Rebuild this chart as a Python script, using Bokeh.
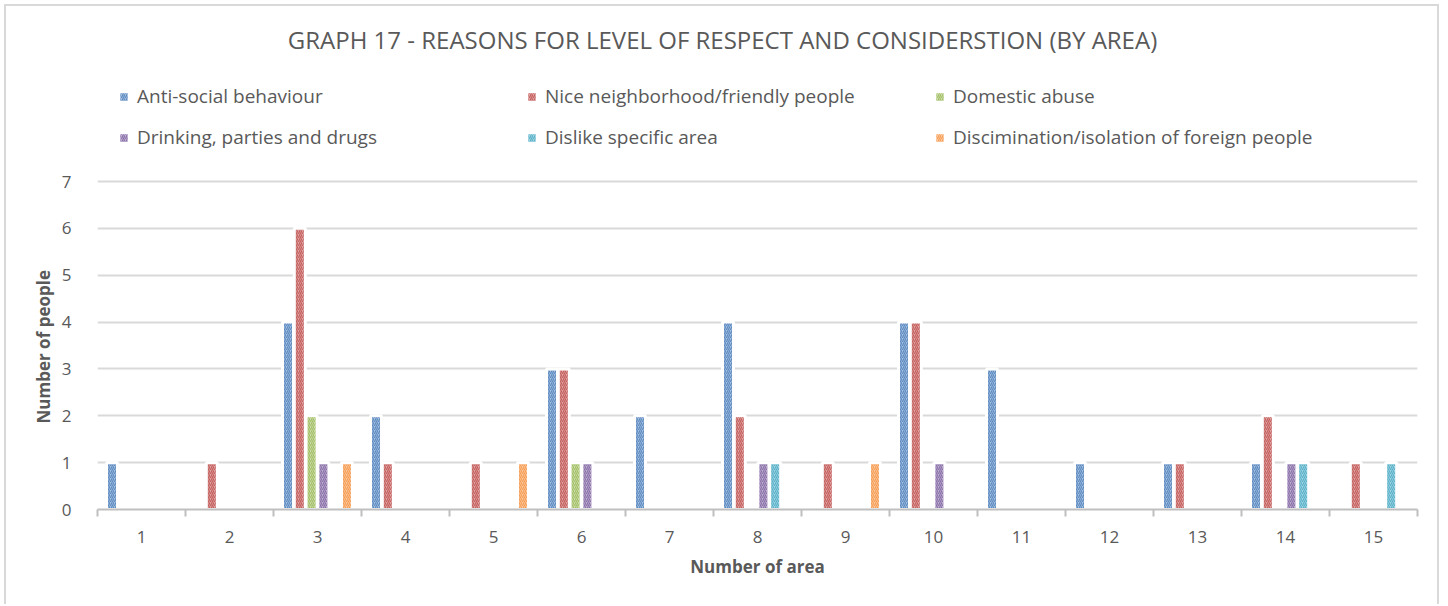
from bokeh.plotting import figure
from bokeh.models import (ColumnDataSource, Range1d, FixedTicker, Legend, LegendItem,
                          Label, Title)
from bokeh.transform import dodge
from bokeh.embed import file_html
from bokeh.resources import INLINE

# Areas surveyed and number of people giving each reason
areas = [1, 2, 3, 4, 5, 6, 7, 8, 9, 10, 11, 12, 13, 14, 15]
anti_social = [1, 0, 4, 2, 0, 3, 2, 4, 0, 4, 3, 1, 1, 1, 0]
nice_neighbourhood = [0, 1, 6, 1, 1, 3, 0, 2, 1, 4, 0, 0, 1, 2, 1]
domestic_abuse = [0, 0, 2, 0, 0, 1, 0, 0, 0, 0, 0, 0, 0, 0, 0]
drinking_parties = [0, 0, 1, 0, 0, 1, 0, 1, 0, 1, 0, 0, 0, 1, 0]
dislike_area = [0, 0, 0, 0, 0, 0, 0, 1, 0, 0, 0, 0, 0, 1, 1]
discrimination = [0, 0, 1, 0, 1, 0, 0, 0, 1, 0, 0, 0, 0, 0, 0]

series_names = [
    "Anti-social behaviour",
    "Nice neighborhood/friendly people",
    "Domestic abuse",
    "Drinking, parties and drugs",
    "Dislike specific area",
    "Discimination/isolation of foreign people",
]
series_values = [anti_social, nice_neighbourhood, domestic_abuse,
                 drinking_parties, dislike_area, discrimination]
y_ticks = [0, 1, 2, 3, 4, 5, 6, 7]

line_colors = ["#4F81BD", "#C0504D", "#9BBB59", "#8064A2", "#4BACC6", "#F79646"]
fill_colors = ["#A7C0DE", "#DFA7A6", "#CDDDAC", "#BFB1D0", "#A5D5E2", "#FBCAA2"]

TEXT = "#595959"
FONT = "Open Sans"

# The frame reaches the top of the canvas so the legend and heading can sit
# inside it; the value axis itself only runs from 0 to 7.
W, H = 1435, 600
LEFT, RIGHT, BOTTOM = 91, 24, 97
AXIS_TOP_PX = 175          # distance of the "7" gridline from the canvas top
frame_h = H - BOTTOM
y_end = y_ticks[-1] * frame_h / (frame_h - AXIS_TOP_PX)

p = figure(width=W, height=H, output_backend="svg", toolbar_location=None,
           x_range=Range1d(0.5, 15.5), y_range=Range1d(0, y_end),
           min_border_left=LEFT, min_border_right=RIGHT, min_border_top=0,
           min_border_bottom=BOTTOM)
p.title = None
p.outline_line_color = None
p.background_fill_color = "white"
p.border_fill_color = "white"
p.styles = {
    "margin-left": "4px", "margin-top": "4px",
    "border-left": "2px solid #d9d9d9", "border-top": "2px solid #d9d9d9",
    "border-right": "2px solid #d9d9d9",
}

# grouped, hatched bars
step = 0.134
bar_w = 0.125
renderers = []
for i, (name, vals) in enumerate(zip(series_names, series_values)):
    xs = [a for a, v in zip(areas, vals) if v > 0]
    ys = [v for v in vals if v > 0]
    src = ColumnDataSource(dict(area=xs, count=ys))
    r = p.vbar(x=dodge("area", (i - 2.5) * step, range=p.x_range), top="count",
               width=bar_w, source=src,
               fill_color=fill_colors[i], line_color="white", line_width=3,
               hatch_pattern="/", hatch_color=line_colors[i], hatch_scale=4,
               hatch_weight=1.2, hatch_alpha=0.85)
    renderers.append(r)

# x axis: labels at area centres, tick marks between areas
xa = p.xaxis[0]
bounds = [a - 0.5 for a in areas] + [areas[-1] + 0.5]
xa.ticker = FixedTicker(ticks=areas, minor_ticks=bounds)
xa.major_tick_line_color = None
xa.minor_tick_in = 0
xa.minor_tick_out = 7
xa.minor_tick_line_color = "#bfbfbf"
xa.minor_tick_line_width = 2
xa.axis_line_color = "#bfbfbf"
xa.axis_line_width = 2
xa.major_label_text_font = FONT
xa.major_label_text_font_size = "17px"
xa.major_label_text_color = TEXT
xa.major_label_standoff = 14
xa.axis_label = "Number of area"
xa.axis_label_text_font = FONT
xa.axis_label_text_font_size = "17px"
xa.axis_label_text_font_style = "bold"
xa.axis_label_text_color = TEXT
xa.axis_label_standoff = 9

ya = p.yaxis[0]
ya.ticker = FixedTicker(ticks=y_ticks)
ya.axis_line_color = None
ya.major_tick_line_color = None
ya.minor_tick_line_color = None
ya.major_label_text_font = FONT
ya.major_label_text_font_size = "17px"
ya.major_label_text_color = TEXT
ya.major_label_standoff = 20

# value-axis title, placed alongside the 0-7 part of the axis
p.add_layout(Title(text="Number of people", align="left", offset=86, standoff=7,
                   text_font=FONT, text_font_size="17px", text_font_style="bold",
                   text_color=TEXT), "left")

p.xgrid.grid_line_color = None
p.ygrid.grid_line_color = "#d9d9d9"
p.ygrid.grid_line_width = 2

legend = Legend(
    items=[LegendItem(label=n, renderers=[r]) for n, r in zip(series_names, renderers)],
    location=(20, 359), orientation="horizontal", ncols=3,
    glyph_width=13, glyph_height=13, label_standoff=7, label_width=373,
    label_height=20, spacing=15, padding=0, margin=0,
    border_line_color=None, background_fill_alpha=0,
    label_text_font=FONT, label_text_font_size="19px", label_text_color=TEXT,
)
p.add_layout(legend, "center")

heading = Label(x=625, y=470, x_units="screen", y_units="screen",
                text="GRAPH 17 - REASONS FOR LEVEL OF RESPECT AND CONSIDERSTION (BY AREA)",
                text_align="center", text_baseline="middle",
                text_font=FONT, text_font_size="24px", text_color=TEXT)
p.add_layout(heading, "center")

open("out.html", "w").write(file_html(p, INLINE))
